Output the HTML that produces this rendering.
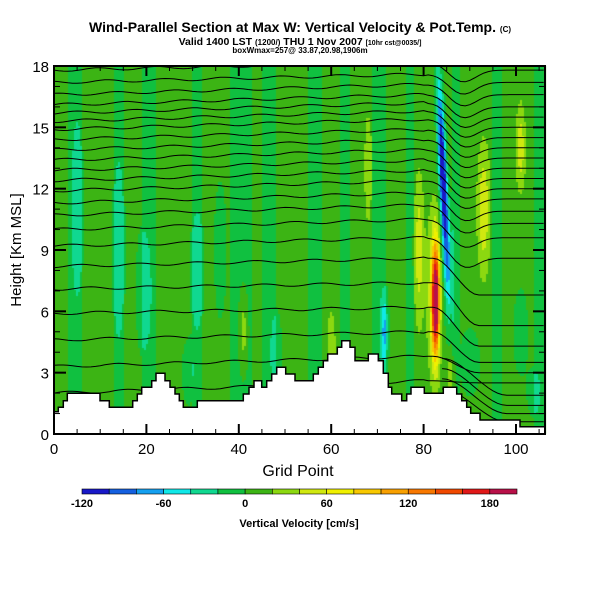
<!DOCTYPE html>
<html><head><meta charset="utf-8">
<style>
html,body{margin:0;padding:0;background:#fff;}
#wrap{position:relative;width:600px;height:600px;overflow:hidden;font-family:"Liberation Sans",Arial,sans-serif;}
canvas{position:absolute;left:0;top:0;}
svg{position:absolute;left:0;top:0;}
text{font-family:"Liberation Sans",Arial,sans-serif;}
</style></head>
<body>
<div id="wrap">
<canvas id="field" width="600" height="600"></canvas>
<svg id="svg" width="600" height="600">
  <defs><clipPath id="plotclip"><rect x="54" y="66" width="491" height="368"/></clipPath></defs>
  <text x="300" y="32" text-anchor="middle" font-size="14" font-weight="bold">Wind-Parallel Section at Max W: Vertical Velocity &amp; Pot.Temp. <tspan font-size="8">(C)</tspan></text>
  <text x="300" y="45" text-anchor="middle" font-size="10.5" font-weight="bold">Valid 1400 LST <tspan font-size="8">(1200/)</tspan> THU 1 Nov 2007 <tspan font-size="7">[10hr cst@0035/]</tspan></text>
  <text x="300" y="53" text-anchor="middle" font-size="8" font-weight="bold">boxWmax=257@ 33.87,20.98,1906m</text>
  <g id="contours" clip-path="url(#plotclip)"></g>
  <polygon id="terrain" fill="#fff" stroke="#000" stroke-width="1.5"></polygon>
  <rect x="54" y="66" width="491" height="368" fill="none" stroke="#000" stroke-width="2"></rect>
  <g id="axes"></g>
  <text x="298" y="476" text-anchor="middle" font-size="16">Grid Point</text>
  <text transform="translate(21,250) rotate(-90)" text-anchor="middle" font-size="15">Height [Km MSL]</text>
  <g id="cbar"></g>
  <text x="299" y="527" text-anchor="middle" font-size="11" font-weight="bold">Vertical Velocity [cm/s]</text>
</svg>
</div>
<script>
// ---- data ----
const xTicks = [0,20,40,60,80,100];
const yTicks = [0,3,6,9,12,15,18];
const cbLevels = [-120,-100,-80,-60,-40,-20,0,20,40,60,80,100,120,140,160,180,200];
const cbColors = ["#1818c8","#1460e0","#14a0f0","#10e8e8","#10d890","#10c040","#3cb414","#8cd810","#d0e810","#f0f000","#f8c800","#f8a000","#f87800","#f04800","#e01818","#b81048"];
const cbLabels = [-120,-60,0,60,120,180];
// vertical velocity features: [gridX, heightKm, amplitude cm/s, widthX, widthZ, tilt]
const wFeatX   = [82.6, 82.2, 84.2, 71.5, 19.5, 31, 36, 48, 29, 90, 101, 104, 79, 93, 101, 41, 60, 86, 68, 14, 5, 85.5];
const wFeatZ   = [6.5, 7.0, 12.5, 5, 7, 8, 9, 4, 3, 3.5, 5, 2, 9, 11, 14, 5, 4, 3, 13, 9, 11, 8];
const wFeatAmp = [200, 40, -150, -60, -30, -30, -28, -28, -25, -28, -25, -25, 45, 50, 45, 35, 32, 30, 25, -25, -25, -35];
const wFeatWx  = [0.8, 1.5, 0.8, 0.8, 1.6, 1.4, 1.2, 1.2, 1.2, 2.0, 1.5, 1.5, 1.0, 1.3, 1.0, 1.0, 0.9, 1.0, 0.9, 1.4, 1.4, 1.0];
const wFeatWz  = [2.6, 4.0, 4.5, 1.8, 3, 3, 3, 2, 1.5, 1.5, 2, 1.2, 3.5, 3, 2, 2, 2, 1, 3, 5, 5, 3];
const wFeatTilt= [0, 0, -0.18, 0, 0, 0, 0, 0, 0, 0, 0, 0, 0, 0, 0, 0, 0, 0, 0, 0, 0, 0];
const darkStripes = [[3,6],[13,15],[19,22],[30,32],[38,43],[45,48],[55,58],[62,64],[69,72],[76,78],[86,88],[95,97],[104,106]];
// potential temperature contours: heights (km) at x=0, x=80, x=106
const thLeft  = [2.0,3.3,4.6,5.9,7.1,8.2,9.2,10.0,10.7,11.3,11.9,12.4,12.9,13.4,13.9,14.4,14.9,15.3,15.7,16.1,16.6,17.2,17.8];
const thMid   = [2.6,3.8,5.0,6.2,7.4,8.6,9.6,10.5,11.2,11.8,12.4,12.9,13.4,13.9,14.4,14.9,15.4,15.8,16.2,16.6,17.1,17.6,18.2];
const thRight = [2.5,3.0,3.5,4.3,5.3,6.8,8.6,9.6,10.3,10.9,11.5,12.0,12.5,13.0,13.5,14.0,14.5,15.0,15.5,16.0,16.6,17.2,17.8];
// right-side cold pool contours: heights at x=84 and x=106
const cpStart = [2.2,2.7,3.2,3.7];
const cpEnd   = [0.6,1.0,1.4,1.9];
// ---- scales ----
const X = g => 54 + g*4.62;
const Y = z => 434 - z*20.444;
const G = px => (px-54)/4.62;
const Z = py => (434-py)/20.444;
const NS='http://www.w3.org/2000/svg';
function mk(tag,attrs,parent){const e=document.createElementNS(NS,tag);for(const k in attrs)e.setAttribute(k,attrs[k]);parent.appendChild(e);return e;}
function colorFor(v){let i=0;while(i<cbColors.length-1&&v>=cbLevels[i+1])i++;return cbColors[i];}
// ---- field ----
const ctx=document.getElementById('field').getContext('2d');
for(let px=54;px<545;px+=2){
  const g=G(px+1);
  let base=8;
  for(const s of darkStripes){if(g>=s[0]&&g<s[1])base=-8;}
  for(let py=66;py<434;py+=2){
    const z=Z(py+1);
    let v=base;
    for(let i=0;i<wFeatX.length;i++){
      const cx=wFeatX[i]+wFeatTilt[i]*(z-wFeatZ[i]);
      const dx=(g-cx)/wFeatWx[i], dz=(z-wFeatZ[i])/wFeatWz[i];
      v+=wFeatAmp[i]*Math.exp(-dx*dx-dz*dz);
    }
    ctx.fillStyle=colorFor(v);
    ctx.fillRect(px,py,2,2);
  }
}
// ---- contours ----
const cg=document.getElementById('contours');
function smooth(t){return t<0?0:t>1?1:t*t*(3-2*t);}
for(let i=0;i<thLeft.length;i++){
  let pts=[];
  for(let g=0;g<=106;g+=1){
    let h;
    if(g<=80) h=thLeft[i]+(thMid[i]-thLeft[i])*(g/80)+0.07*Math.sin(g*0.5+i);
    else h=thMid[i]+(thRight[i]-thMid[i])*smooth((g-82)/10);
    if(thMid[i]>9){const d=(g-88)/4;h-=0.7*Math.exp(-d*d);}
    pts.push(X(g).toFixed(1)+','+Y(h).toFixed(1));
  }
  const p=mk('polyline',{points:pts.join(' '),fill:'none',stroke:'#000','stroke-width':1},cg);
  
  
}
for(let i=0;i<cpStart.length;i++){
  let pts=[];
  for(let g=84;g<=106;g+=1){
    const h=cpStart[i]+(cpEnd[i]-cpStart[i])*smooth((g-84)/14);
    pts.push(X(g).toFixed(1)+','+Y(h).toFixed(1));
  }
  const p=mk('polyline',{points:pts.join(' '),fill:'none',stroke:'#000','stroke-width':1},cg);
  
  
}
// ---- terrain ----
const terr=[[54,411.7],[58.3,411.7],[58.3,407.3],[63.3,407.3],[63.3,400.7],[67.3,400.7],[67.3,393.3],[100,393.3],[100,400.7],[109.3,400.7],[109.3,407.3],[132.7,407.3],[132.7,400.7],[137.3,400.7],[137.3,394],[141.7,394],[141.7,387.3],[151.7,387.3],[151.7,380.7],[156,380.7],[156,373.3],[165,373.3],[165,380.7],[170,380.7],[170,387.3],[175,387.3],[175,394],[179.3,394],[179.3,400.7],[183.3,400.7],[183.3,407.3],[197.3,407.3],[197.3,400.7],[243.3,400.7],[243.3,394],[249,394],[249,387.3],[254,387.3],[254,380.7],[261.7,380.7],[261.7,387.3],[266.7,387.3],[266.7,380.7],[271.7,380.7],[271.7,374],[276.7,374],[276.7,367.3],[285.7,367.3],[285.7,374],[295,374],[295,380.7],[313.3,380.7],[313.3,374],[318.3,374],[318.3,367.3],[323.3,367.3],[323.3,360.7],[327.7,360.7],[327.7,354],[337.3,354],[337.3,347.3],[341.7,347.3],[341.7,340.7],[350,340.7],[350,347.3],[355,347.3],[355,360.7],[368.3,360.7],[368.3,354],[378.3,354],[378.3,360.7],[383.3,360.7],[383.3,373.3],[388.3,373.3],[388.3,387.3],[391.7,387.3],[391.7,394],[401.7,394],[401.7,400.7],[406.7,400.7],[406.7,394],[411,394],[411,387.3],[424.3,387.3],[424.3,393.3],[443.3,393.3],[443.3,387.3],[456.7,387.3],[456.7,394],[461.7,394],[461.7,400.7],[466.7,400.7],[466.7,407.3],[470.7,407.3],[470.7,413.3],[480,413.3],[480,420],[520,420],[520,426.7],[545,426.7],[545,434],[54,434]];
document.getElementById('terrain').setAttribute('points',terr.map(p=>p.join(',')).join(' '));
// ---- axes ----
const ax=document.getElementById('axes');
for(const t of xTicks){
  const l=mk('line',{x1:X(t),x2:X(t),y1:434,y2:424,stroke:'#000','stroke-width':2},ax);
  
  
  mk('line',{x1:X(t),x2:X(t),y1:66,y2:76,stroke:'#000','stroke-width':2},ax);
  const tx=mk('text',{x:X(t),y:454,'text-anchor':'middle','font-size':15},ax);
  tx.textContent=t;
  
  
}
for(let g=5;g<106;g+=5){ if(g%20===0)continue;
  mk('line',{x1:X(g),x2:X(g),y1:434,y2:429,stroke:'#000','stroke-width':1},ax);
  mk('line',{x1:X(g),x2:X(g),y1:66,y2:71,stroke:'#000','stroke-width':1},ax);
}
for(const t of yTicks){
  const l=mk('line',{x1:54,x2:66,y1:Y(t),y2:Y(t),stroke:'#000','stroke-width':2},ax);
  
  
  mk('line',{x1:533,x2:545,y1:Y(t),y2:Y(t),stroke:'#000','stroke-width':2},ax);
  const tx=mk('text',{x:49,y:Y(t)+6,'text-anchor':'end','font-size':15},ax);
  tx.textContent=t;
  
  
}
for(let z=1;z<18;z++){ if(z%3===0)continue;
  mk('line',{x1:54,x2:60,y1:Y(z),y2:Y(z),stroke:'#000','stroke-width':1},ax);
  mk('line',{x1:539,x2:545,y1:Y(z),y2:Y(z),stroke:'#000','stroke-width':1},ax);
}
// ---- colorbar ----
const cb=document.getElementById('cbar');
const CX=v=>82+(v+120)*435/320;
for(let i=0;i<cbColors.length;i++){
  const r=mk('rect',{x:CX(cbLevels[i]),y:489,width:CX(cbLevels[i+1])-CX(cbLevels[i]),height:5,fill:cbColors[i],stroke:'#000','stroke-width':0.6},cb);
  
  
}
for(const v of cbLabels){
  const t=mk('text',{x:CX(v),y:507,'text-anchor':'middle','font-size':11,'font-weight':'bold'},cb);
  t.textContent=v;
  
  
}
</script>
</body></html>
